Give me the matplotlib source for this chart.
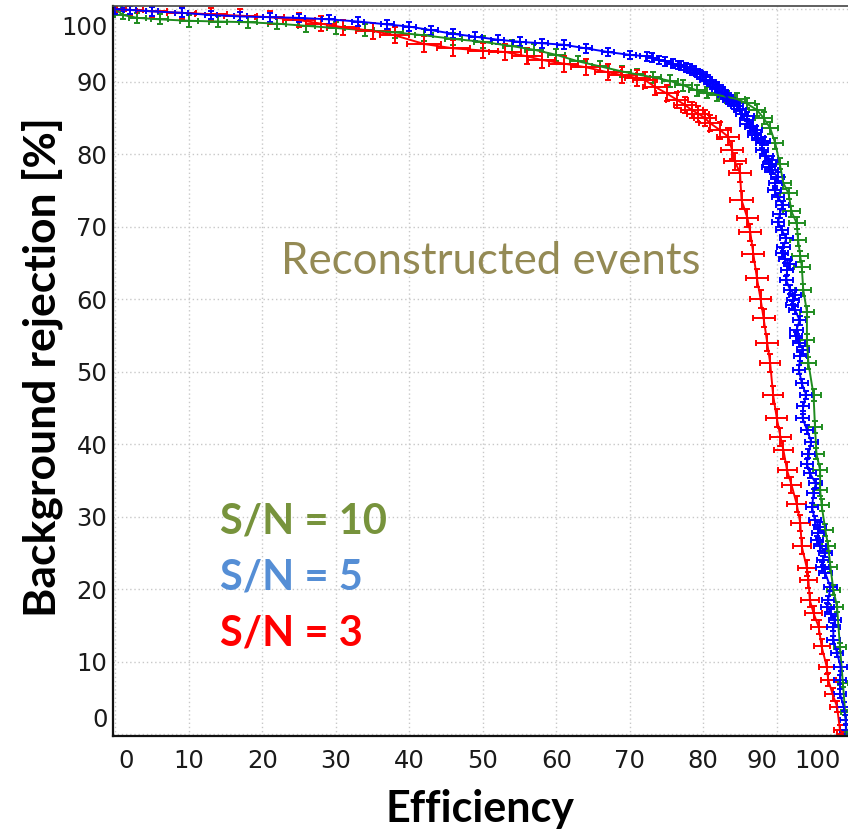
import matplotlib
matplotlib.use("Agg")
import matplotlib.pyplot as plt
import matplotlib.transforms as mtransforms

# S/N = 3 (red)
red_x = [0, 2, 5, 9, 13, 17, 21, 25, 28, 31, 35, 38, 42, 46, 50, 53, 56, 58, 61, 64,
         67, 69, 71, 72.1, 73.4, 75.0, 76.4, 77.5, 78.4, 79.3, 80.2, 80.9, 82.3, 83.4, 83.9,
         84.3, 85.0, 85.2, 86.0, 86.4, 86.8, 87.3, 87.8, 88.2, 88.7, 89.1, 89.5, 90.0, 90.5,
         90.9, 91.4, 92.0, 92.7, 93.2, 93.4, 94.1, 94.3, 94.5, 95.0, 95.7, 96.1, 96.8, 97.0,
         97.6, 98.2, 98.6, 99.0]
red_y = [100, 99.9, 99.7, 99.5, 99.3, 99.1, 98.9, 98.5, 98.0, 97.5, 97.0, 96.4, 95.2, 94.6,
         94.3, 94.1, 93.5, 93.0, 92.5, 92.0, 91.3, 90.9, 90.5, 90.2, 89.3, 88.4, 87.5, 86.8,
         86.1, 85.6, 85.0, 84.3, 83.3, 82.4, 80.6, 79.0, 77.4, 73.7, 71.2, 69.2, 66.3, 62.9,
         60.0, 57.4, 54.0, 51.2, 46.8, 43.6, 41.0, 39.2, 36.4, 34.4, 31.8, 29.1, 25.9, 22.9,
         21.3, 18.5, 16.7, 14.8, 12.1, 9.3, 7.5, 5.5, 3.8, 0.6, 0.0]
red_xerr = [1.5, 1.8, 2.0, 2.0, 2.2, 2.2, 2.0, 2.2, 2.0, 2.2, 2.3, 2.0, 2.3, 2.2, 2.0, 2.2,
            2.0, 1.8, 2.0, 2.0, 1.8, 1.8, 1.7, 1.6, 1.6, 1.5, 1.5, 1.5, 1.5, 1.5, 1.5, 1.5,
            1.5, 1.5, 1.5, 1.5, 1.5, 1.5, 1.4, 1.5, 1.5, 1.5, 1.4, 1.5, 1.5, 1.4, 1.4, 1.4,
            1.4, 1.3, 1.3, 1.3, 1.3, 1.3, 1.2, 1.2, 1.2, 1.2, 1.1, 1.1, 1.1, 1.0, 1.0, 1.0,
            0.9, 0.8, 0.8]
red_yerr = [0.5, 0.7, 0.8, 0.8, 0.9, 0.9, 0.9, 1.0, 1.0, 1.0, 1.1, 1.1, 1.1, 1.1, 1.1, 1.1,
            1.1, 1.1, 1.1, 1.1, 1.1, 1.1, 1.1, 1.1, 1.1, 1.1, 1.1, 1.1, 1.1, 1.1, 1.1, 1.1,
            1.2, 1.2, 1.2, 1.2, 1.2, 1.2, 1.2, 1.2, 1.2, 1.2, 1.2, 1.2, 1.2, 1.2, 1.2, 1.2,
            1.2, 1.2, 1.1, 1.1, 1.1, 1.1, 1.1, 1.1, 1.1, 1.0, 1.0, 1.0, 1.0, 1.0, 0.9, 0.9,
            0.8, 0.7, 0.6]

# S/N = 5 (blue)
blue_x = [0, 2, 5, 9, 13, 17, 21, 25, 29, 33, 37, 40, 43, 46, 49, 52, 55, 58, 61, 64, 67,
          70, 72.3, 73.0, 74.0, 74.8, 75.9, 76.5, 77.0, 77.6, 78.2,
          78.7, 79.1, 79.6, 80.0, 80.4, 80.9, 81.3, 81.8, 82.1, 82.5,
          82.9, 83.2, 83.5, 83.9, 84.2, 84.6, 85.0, 85.3, 86.0, 85.9,
          85.9, 86.5, 87.2, 87.0, 87.0, 87.5, 88.2, 88.0, 88.0, 88.6,
          89.3, 89.0, 88.9, 89.3, 90.1, 89.8, 89.7, 90.2, 90.8, 90.4,
          90.2, 90.7, 91.3, 90.9, 90.7, 91.1, 91.8, 91.4, 91.3, 91.8,
          92.5, 92.2, 92.1, 92.5, 93.1, 92.7, 92.6, 93.0, 93.6, 93.2,
          93.0, 93.4, 94.0, 93.6, 93.5, 94.1, 94.7, 94.3, 94.1, 94.5,
          95.3, 95.0, 94.8, 95.2, 95.9, 95.6, 95.5, 95.9, 96.6, 96.3,
          96.2, 96.6, 97.3, 97.0, 96.9, 97.4, 97.9, 97.7, 97.7, 98.2,
          98.7, 98.6, 98.6, 99.1, 99.4, 99.4]
blue_y = [100, 99.9, 99.7, 99.5, 99.2, 99.0, 98.9, 98.8, 98.6, 98.3, 97.9, 97.6, 97.1, 96.6,
          96.2, 95.8, 95.5, 95.3, 95.1, 94.6, 94.1,
          93.7, 93.5, 93.3, 93.0, 92.8, 92.5, 92.3, 92.2, 92.0, 91.8,
          91.5, 91.2, 91.0, 90.7, 90.3, 90.0, 89.7, 89.3, 89.0, 88.6,
          88.2, 87.9, 87.5, 87.2, 86.9, 86.6, 86.1, 85.6, 85.2, 84.7,
          84.2, 83.8, 83.3, 82.9, 82.6, 82.2, 81.8, 81.5, 80.6, 79.7,
          79.2, 78.7, 78.2, 77.8, 76.9, 76.0, 75.0, 74.1, 73.0, 71.8,
          70.6, 69.5, 68.4, 67.2, 66.4, 65.6, 64.8, 64.0, 62.6, 61.3,
          60.6, 59.9, 59.2, 58.5, 57.1, 55.8, 54.9, 54.0, 53.0, 52.1,
          50.3, 48.4, 46.8, 45.2, 43.6, 42.0, 40.3, 38.7, 37.3, 36.0,
          34.6, 33.2, 31.3, 29.5, 28.6, 27.7, 26.8, 25.9, 25.0, 24.0,
          23.1, 22.2, 20.3, 18.5, 17.5, 16.6, 15.7, 14.8, 13.0, 11.2,
          9.3, 7.5, 5.6, 3.8, 2.0, 0.6]
blue_xerr = 0.85
blue_yerr = 0.6

# S/N = 10 (green)
green_x = [0, 1, 3, 6, 10, 14, 18, 22, 26, 30, 34, 38, 42, 46, 50, 54, 57, 60, 63, 66,
           69, 71, 73.2, 75.5, 77.3, 79.1, 80.5, 81.8, 83.2, 84.6, 85.9, 87.3, 88.2, 89.1,
           89.8, 90.4, 90.9, 91.6, 92.0, 92.7, 92.9, 93.2, 93.4, 93.6, 94.1, 94.1, 94.3, 95.0,
           95.2, 95.4, 95.9, 95.9, 96.1, 96.6, 97.0, 97.3, 97.7, 98.2, 98.6, 99.0, 99.3, 99.5]
green_y = [100, 99.2, 98.8, 98.6, 98.4, 98.3, 98.2, 98.0, 97.7, 97.4, 97.1, 96.8, 96.4, 95.9,
           95.5, 94.9, 94.4, 93.7, 92.8, 92.1, 91.4, 91.0, 90.6, 90.1, 89.5, 88.8, 88.5, 88.2,
           87.9, 87.6, 87.0, 86.1, 85.0, 83.6, 81.5, 78.7, 76.0, 74.6, 72.1, 70.5, 68.2, 65.9,
           64.5, 61.3, 58.3, 54.4, 51.2, 46.8, 42.4, 38.7, 36.4, 33.7, 31.6, 28.2, 25.9, 23.1,
           19.9, 17.6, 12.0, 7.0, 3.0, 0.0]
green_xerr = [0.8, 1.0, 1.1, 1.1, 1.2, 1.2, 1.2, 1.2, 1.2, 1.2, 1.2, 1.2, 1.2, 1.2, 1.2, 1.2,
              1.2, 1.2, 1.2, 1.2, 1.1, 1.1, 1.1, 1.1, 1.1, 1.1, 1.1, 1.1, 1.1, 1.1, 1.1, 1.1,
              1.1, 1.1, 1.1, 1.1, 1.1, 1.1, 1.1, 1.1, 1.1, 1.1, 1.1, 1.1, 1.0, 1.0, 1.0, 1.0,
              1.0, 1.0, 1.0, 1.0, 1.0, 1.0, 0.9, 0.9, 0.9, 0.8, 0.8, 0.7, 0.6, 0.5]
green_yerr = [0.4, 0.6, 0.7, 0.7, 0.8, 0.8, 0.8, 0.8, 0.8, 0.8, 0.8, 0.8, 0.8, 0.8, 0.8, 0.8,
              0.8, 0.8, 0.8, 0.8, 0.8, 0.8, 0.8, 0.8, 0.8, 0.8, 0.8, 0.8, 0.8, 0.8, 0.8, 0.8,
              0.8, 0.8, 0.8, 0.8, 0.8, 0.8, 0.8, 0.8, 0.8, 0.8, 0.8, 0.8, 0.8, 0.8, 0.8, 0.8,
              0.8, 0.8, 0.8, 0.8, 0.8, 0.8, 0.7, 0.7, 0.7, 0.7, 0.6, 0.5, 0.4, 0.3]

ticks = list(range(0, 101, 10))
labels = ["S/N = 10", "S/N = 5", "S/N = 3"]
label_colors = ["#77933c", "#558ed5", "#ff0000"]

fig = plt.figure(figsize=(8.48, 8.33), dpi=100)
ax = fig.add_axes([113/848, 1 - 736/833, 738/848, 730/833])

curves = [
    (green_x, green_y, green_xerr, green_yerr, "#1f8c1f"),
    (red_x, red_y, red_xerr, red_yerr, "#ff0000"),
    (blue_x, blue_y, blue_xerr, blue_yerr, "#0000ff"),
]
for xs, ys, xe, ye, col in curves:
    ax.errorbar(xs, ys, xerr=xe, yerr=ye, color=col, lw=1.4,
                elinewidth=1.4, capsize=2.5, capthick=1.4)

ax.set_xlim(-0.33, 100.1)
ax.set_ylim(-0.25, 100.44)
ax.set_xticks(ticks)
ax.set_yticks(ticks)
ax.grid(True, color="#c8c8c8", linestyle=(0, (1, 2)), lw=1.0)
ax.set_axisbelow(True)
ax.tick_params(length=0, labelsize=17.5, labelcolor="#1a1a1a")
ax.tick_params(axis="x", pad=9)
ax.tick_params(axis="y", pad=4)

for side in ["left", "bottom"]:
    ax.spines[side].set_linewidth(1.6)
    ax.spines[side].set_color("#111111")
ax.spines["top"].set_linewidth(1.2)
ax.spines["top"].set_color("#444444")
ax.spines["right"].set_visible(False)

# nudge the edge tick labels like in the original
def nudge(tick, dx, dy):
    off = mtransforms.ScaledTranslation(dx/100, dy/100, fig.dpi_scale_trans)
    tick.label1.set_transform(tick.label1.get_transform() + off)

xt = ax.xaxis.get_major_ticks()
yt = ax.yaxis.get_major_ticks()
nudge(xt[0], 11, 0)
nudge(xt[9], -15, 0)
nudge(xt[10], -33, 0)
nudge(yt[0], 0, 17)
nudge(yt[10], 0, -16)

fig.text(42/848, 1 - 367/833, "Background rejection [%]", rotation=90,
         ha="center", va="center", fontsize=32, fontweight="bold", family="Lato")
fig.text(480/848, 1 - 809/833, "Efficiency", ha="center", va="center",
         fontsize=31, fontweight="bold", family="Lato")
fig.text(491/848, 1 - 262/833, "Reconstructed events", ha="center", va="center",
         fontsize=31.5, color="#948a54", family="Lato")
for i, (txt, c) in enumerate(zip(labels, label_colors)):
    fig.text(220/848, 1 - (522 + 56*i)/833, txt, ha="left", va="center",
             fontsize=30, fontweight="bold", color=c, family="Lato")

fig.savefig("out.png", dpi=100)
